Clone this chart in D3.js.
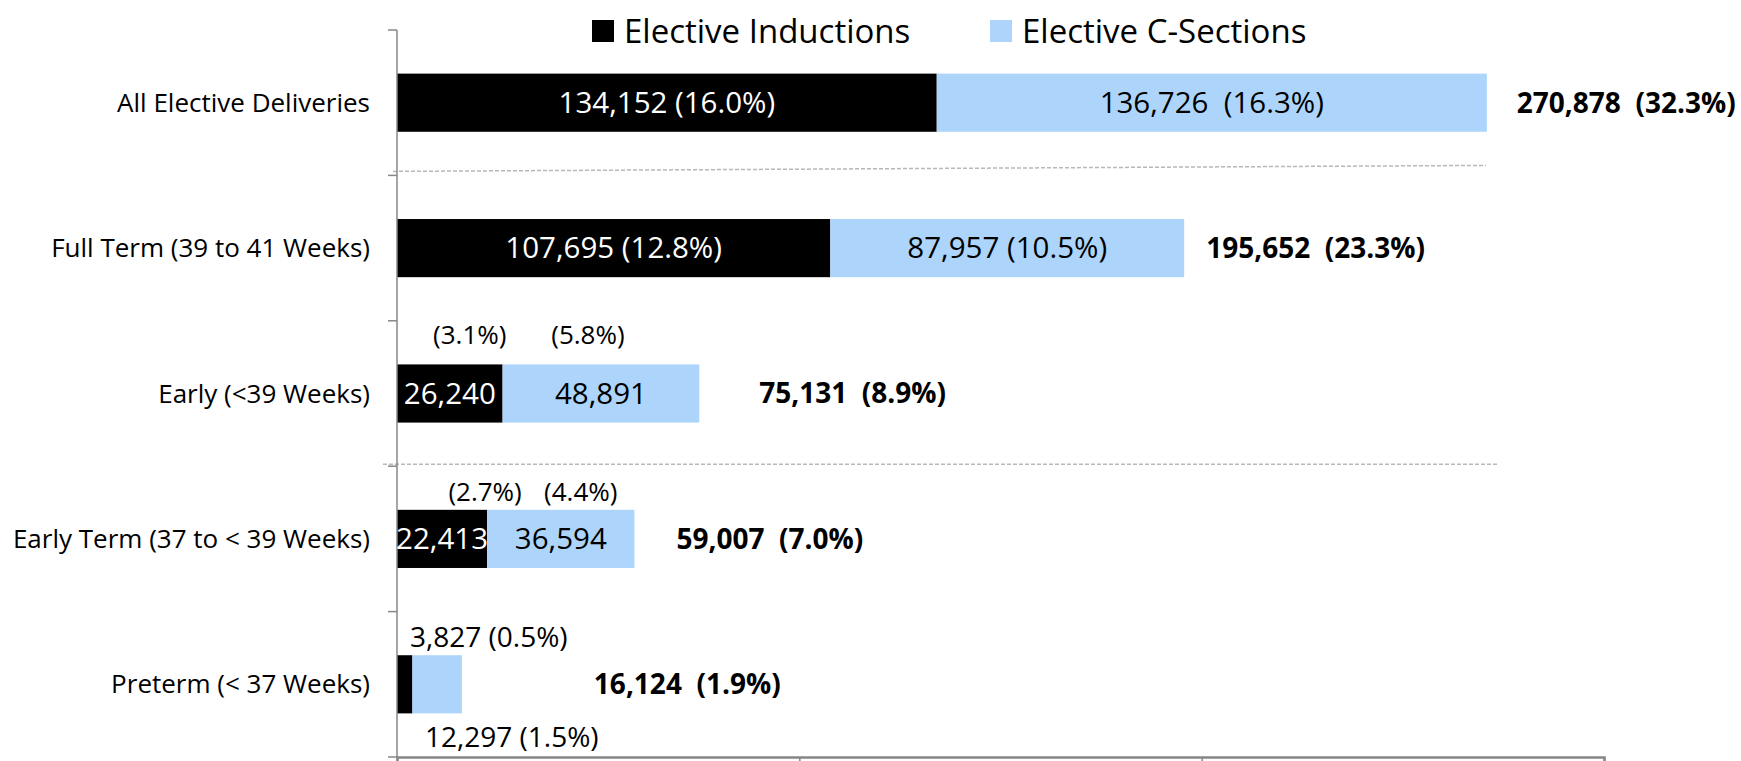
<!DOCTYPE html>
<html>
<head>
<meta charset="utf-8">
<script src="https://cdn.jsdelivr.net/npm/d3@7"></script>
<style>
  body { margin: 0; background: #fff; }
  svg text { font-family: "Open Sans", "Noto Sans", sans-serif; }
</style>
</head>
<body>
<div id="chart"></div>
<script>
const width = 1741;
const height = 761;

const categories = [
  "All Elective Deliveries",
  "Full Term (39 to 41 Weeks)",
  "Early (<39 Weeks)",
  "Early Term (37 to < 39 Weeks)",
  "Preterm (< 37 Weeks)"
];
const inductions = [134152, 107695, 26240, 22413, 3827];
const cSections = [136726, 87957, 48891, 36594, 12297];
const inductionPct = [16.0, 12.8, 3.1, 2.7, 0.5];
const cSectionPct = [16.3, 10.5, 5.8, 4.4, 1.5];
const totals = [270878, 195652, 75131, 59007, 16124];
const totalPct = [32.3, 23.3, 8.9, 7.0, 1.9];
const xTicks = [0, 100000, 200000, 300000];
const seriesNames = ["Elective Inductions", "Elective C-Sections"];

const colors = ["#000000", "#add5fb"];
const fmt = d3.format(",");
const pct = v => "(" + v.toFixed(1) + "%)";

// how each row's labels are laid out
const labelMode = ["inside", "inside", "split", "split", "outside"];
const totalGap = [30, 22, 60, 42, 132];
const pctShift = [null, null, [[20, -30], [-13, -30]], [[43, -18], [20, -18]], null];

const svg = d3.select("#chart")
  .append("svg")
  .attr("width", width)
  .attr("height", height);

const x = d3.scaleLinear().domain([0, 300000]).range([397, 1604]);
const y = d3.scaleBand()
  .domain(categories)
  .range([30, 757])
  .paddingInner(0.6)
  .paddingOuter(0.3);

const rows = categories.map((c, i) => ({
  cat: c, i,
  ind: inductions[i], cs: cSections[i],
  indPct: inductionPct[i], csPct: cSectionPct[i],
  total: totals[i], totalPct: totalPct[i]
}));

// separator dashed lines
const step = y.step();
const bound = i => y.range()[0] + i * step;
svg.append("line")
  .attr("x1", x(0) - 4).attr("y1", bound(1) - 4)
  .attr("x2", 1486).attr("y2", bound(1) - 10)
  .attr("stroke", "#b8b8b8").attr("stroke-width", 1.5)
  .attr("stroke-dasharray", "4,2");
svg.append("line")
  .attr("x1", x(0) - 14).attr("y1", bound(3) - 2)
  .attr("x2", 1499).attr("y2", bound(3) - 2)
  .attr("stroke", "#b8b8b8").attr("stroke-width", 1.5)
  .attr("stroke-dasharray", "4,2");

// bars
const g = svg.append("g");
g.selectAll("rect.ind")
  .data(rows)
  .enter()
  .append("rect")
  .attr("class", "ind")
  .attr("x", x(0))
  .attr("y", d => y(d.cat))
  .attr("width", d => x(d.ind) - x(0))
  .attr("height", y.bandwidth())
  .style("fill", colors[0]);

g.selectAll("rect.cs")
  .data(rows)
  .enter()
  .append("rect")
  .attr("class", "cs")
  .attr("x", d => x(d.ind))
  .attr("y", d => y(d.cat))
  .attr("width", d => x(d.ind + d.cs) - x(d.ind))
  .attr("height", y.bandwidth())
  .style("fill", colors[1]);

// y axis (category labels + boundary ticks)
const axisColor = "#878787";
svg.append("line")
  .attr("x1", x(0)).attr("x2", x(0))
  .attr("y1", y.range()[0]).attr("y2", y.range()[1])
  .attr("stroke", axisColor).attr("stroke-width", 1.5);
d3.range(categories.length + 1).forEach(i => {
  svg.append("line")
    .attr("x1", x(0) - 9).attr("x2", x(0))
    .attr("y1", bound(i)).attr("y2", bound(i))
    .attr("stroke", axisColor).attr("stroke-width", 1.5);
});

svg.selectAll("text.cat")
  .data(rows)
  .enter()
  .append("text")
  .attr("class", "cat")
  .attr("x", 370)
  .attr("y", d => y(d.cat) + y.bandwidth() / 2)
  .attr("dy", "0.35em")
  .attr("text-anchor", "end")
  .style("font-size", "26px")
  .style("fill", "#000")
  .text(d => d.cat);

// x axis, no labels
const xAxis = d3.axisBottom(x).tickValues(xTicks).tickSize(5).tickFormat("");
const xa = svg.append("g")
  .attr("transform", `translate(0,${y.range()[1]})`)
  .call(xAxis);
xa.select(".domain").attr("stroke", axisColor).attr("stroke-width", 2.5);
xa.selectAll(".tick line").attr("stroke", axisColor).attr("stroke-width", 1.5);

// value labels
const labels = svg.append("g").style("font-size", "28px");
rows.forEach(d => {
  const cy = y(d.cat) + y.bandwidth() / 2;
  const top = y(d.cat);
  const indMid = (x(0) + x(d.ind)) / 2;
  const csMid = (x(d.ind) + x(d.ind + d.cs)) / 2;
  const mode = labelMode[d.i];

  if (mode === "inside") {
    labels.append("text")
      .attr("x", indMid).attr("y", cy).attr("dy", "0.35em")
      .attr("text-anchor", "middle").style("fill", "#fff")
      .style("font-size", "29.5px")
      .text(fmt(d.ind) + " " + pct(d.indPct));
    labels.append("text")
      .attr("x", csMid).attr("y", cy).attr("dy", "0.35em")
      .attr("text-anchor", "middle").style("fill", "#000")
      .style("font-size", "29.5px")
      .style("white-space", "pre")
      .text(fmt(d.cs) + (d.i === 0 ? "  " : " ") + pct(d.csPct));
  } else if (mode === "split") {
    const sh = pctShift[d.i];
    labels.append("text")
      .attr("x", indMid).attr("y", cy).attr("dy", "0.35em")
      .attr("text-anchor", "middle").style("fill", "#fff")
      .style("font-size", "29.5px")
      .text(fmt(d.ind));
    labels.append("text")
      .attr("x", csMid).attr("y", cy).attr("dy", "0.35em")
      .attr("text-anchor", "middle").style("fill", "#000")
      .style("font-size", "29.5px")
      .text(fmt(d.cs));
    labels.append("text")
      .attr("x", indMid + sh[0][0]).attr("y", top + sh[0][1]).attr("dy", "0.35em")
      .attr("text-anchor", "middle").style("font-size", "26px")
      .text(pct(d.indPct));
    labels.append("text")
      .attr("x", csMid + sh[1][0]).attr("y", top + sh[1][1]).attr("dy", "0.35em")
      .attr("text-anchor", "middle").style("font-size", "26px")
      .text(pct(d.csPct));
  } else {
    labels.append("text")
      .attr("x", x(0) + 13).attr("y", top - 18).attr("dy", "0.35em")
      .text(fmt(d.ind) + " " + pct(d.indPct));
    labels.append("text")
      .attr("x", x(0) + 28).attr("y", top + y.bandwidth() + 24).attr("dy", "0.35em")
      .text(fmt(d.cs) + " " + pct(d.csPct));
  }

  labels.append("text")
    .attr("x", x(d.total) + totalGap[d.i]).attr("y", cy).attr("dy", "0.35em")
    .style("font-weight", "bold").style("font-size", "28px")
    .style("white-space", "pre")
    .text(fmt(d.total) + "  " + pct(d.totalPct));
});

// legend
const legendX = [592, 990];
const legend = svg.append("g");
seriesNames.forEach((name, i) => {
  legend.append("rect")
    .attr("x", legendX[i]).attr("y", 20)
    .attr("width", 22).attr("height", 22)
    .style("fill", colors[i]);
  legend.append("text")
    .attr("x", legendX[i] + 32).attr("y", 31).attr("dy", "0.35em")
    .style("font-size", "33px")
    .text(name);
});
</script>
</body>
</html>
